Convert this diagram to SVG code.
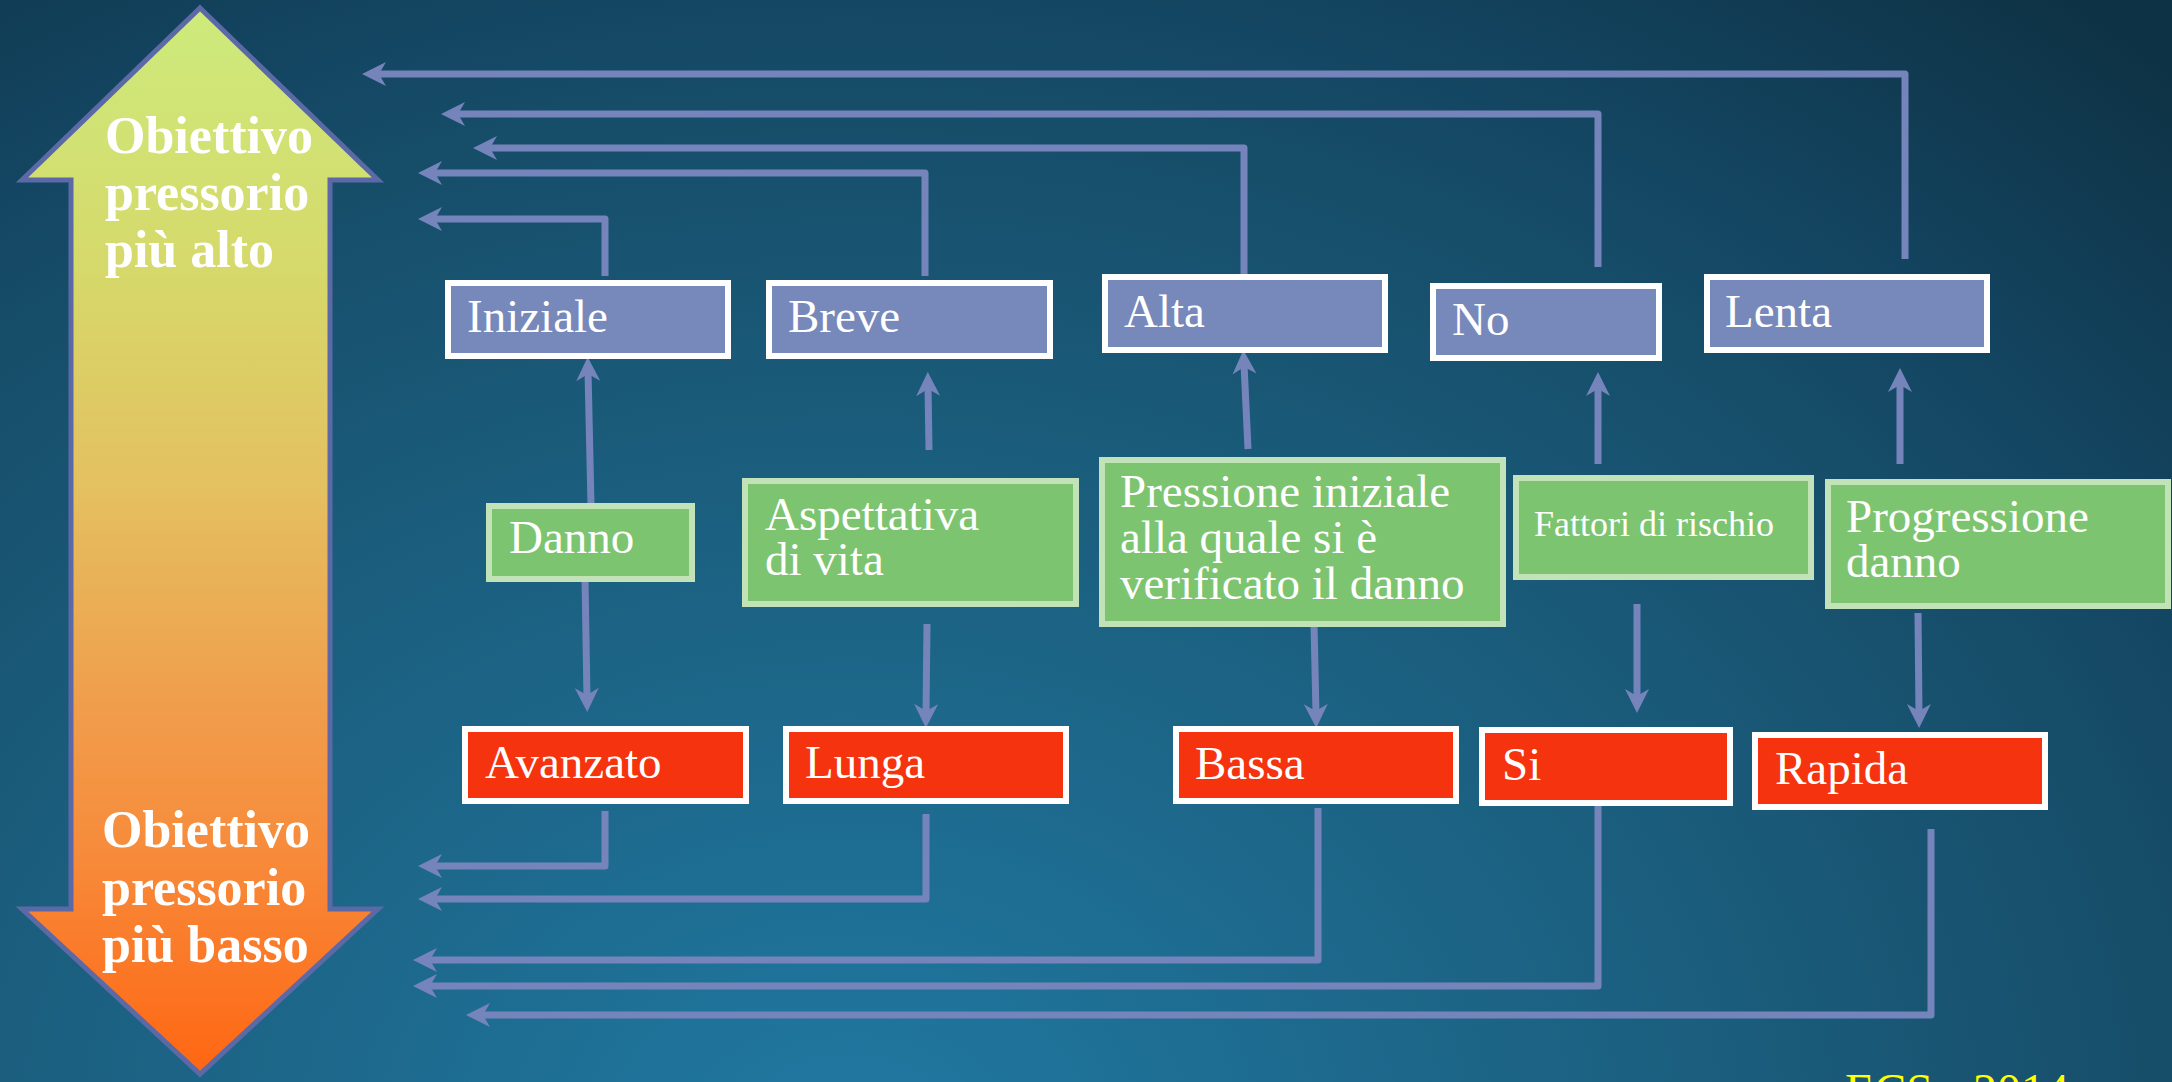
<svg xmlns="http://www.w3.org/2000/svg" width="2172" height="1082" viewBox="0 0 2172 1082">
  <defs>
    <radialGradient id="bg" gradientUnits="userSpaceOnUse" cx="0" cy="0" r="1" gradientTransform="translate(850 1150) scale(1900 1500)">
      <stop offset="0" stop-color="#2079a2"/>
      <stop offset="0.45" stop-color="#1b5e7e"/>
      <stop offset="0.7" stop-color="#164d69"/>
      <stop offset="0.8" stop-color="#134460"/>
      <stop offset="1" stop-color="#0e3245"/>
    </radialGradient>
    <linearGradient id="dbl" gradientUnits="userSpaceOnUse" x1="0" y1="8" x2="0" y2="1074">
      <stop offset="0" stop-color="#cdeb7c"/>
      <stop offset="0.25" stop-color="#d6d86a"/>
      <stop offset="0.45" stop-color="#e4c060"/>
      <stop offset="0.65" stop-color="#f09e4c"/>
      <stop offset="0.8" stop-color="#f78a3a"/>
      <stop offset="1" stop-color="#ff6612"/>
    </linearGradient>
    <marker id="ah" markerUnits="userSpaceOnUse" viewBox="-25 -13 27 26" markerWidth="27" markerHeight="26" refX="-14" refY="0" orient="auto">
      <path d="M0,0 L-24,-12 L-17,0 L-24,12 Z" fill="#7585bc"/>
    </marker>
    <style>
      .conn { fill: none; stroke: #7585bc; stroke-width: 7; stroke-linejoin: round; }
      .arr { marker-end: url(#ah); }
      .blue rect { fill: #7788bb; stroke: #ffffff; stroke-width: 6; }
      .green rect { fill: #7dc470; stroke: #c2e3b8; stroke-width: 6; }
      .red rect { fill: #f5330f; stroke: #ffffff; stroke-width: 6; }
      .t { font-family: "Liberation Serif", "Times New Roman", serif; font-size: 47px; fill: #ffffff; }
      .s { font-size: 36px; }
      .big { font-family: "Liberation Serif", "Times New Roman", serif; font-size: 52px; font-weight: bold; fill: #ffffff; }
      .src { font-family: "Liberation Serif", "Times New Roman", serif; font-size: 48px; fill: #ffff00; }
    </style>
  </defs>

  <rect x="0" y="0" width="2172" height="1082" fill="url(#bg)"/>

  <g id="double-arrow">
    <polygon points="200,8 378,180 330,180 330,909 378,909 200,1074 22,909 71,909 71,180 22,180" fill="url(#dbl)" stroke="#5b6aa6" stroke-width="5" stroke-linejoin="miter"/>
    <text class="big" x="105" y="153">Obiettivo</text>
    <text class="big" x="105" y="210">pressorio</text>
    <text class="big" x="105" y="267">più alto</text>
    <text class="big" x="102" y="847">Obiettivo</text>
    <text class="big" x="102" y="905">pressorio</text>
    <text class="big" x="102" y="962">più basso</text>
  </g>

  <g id="connectors">
    <!-- top row feedback -->
    <path class="conn arr" d="M605,276 V219 H432"/>
    <path class="conn arr" d="M925,276 V173 H432"/>
    <path class="conn arr" d="M1244,280 V148 H487"/>
    <path class="conn arr" d="M1598,267 V114 H455"/>
    <path class="conn arr" d="M1905,259 V74 H376"/>
    <!-- up arrows -->
    <path class="conn arr" d="M591,505 L588,371"/>
    <path class="conn arr" d="M929,450 L928,386"/>
    <path class="conn arr" d="M1248,449 L1244,364"/>
    <path class="conn arr" d="M1598,464 L1598,386"/>
    <path class="conn arr" d="M1900,464 L1900,382"/>
    <!-- down arrows -->
    <path class="conn arr" d="M585,579 L587,698"/>
    <path class="conn arr" d="M927,624 L926,714"/>
    <path class="conn arr" d="M1314,624 L1316,714"/>
    <path class="conn arr" d="M1637,604 L1637,699"/>
    <path class="conn arr" d="M1918,613 L1919,714"/>
    <!-- bottom row feedback -->
    <path class="conn arr" d="M605,811 V866 H432"/>
    <path class="conn arr" d="M926,814 V899 H432"/>
    <path class="conn arr" d="M1318,808 V960 H427"/>
    <path class="conn arr" d="M1598,803 V986 H427"/>
    <path class="conn arr" d="M1931,829 V1015 H480"/>
  </g>

  <g id="iniziale" class="blue"><rect x="448" y="283" width="280" height="73"/><text class="t" x="467" y="332">Iniziale</text></g>
  <g id="breve" class="blue"><rect x="769" y="283" width="281" height="73"/><text class="t" x="788" y="332">Breve</text></g>
  <g id="alta" class="blue"><rect x="1105" y="277" width="280" height="73"/><text class="t" x="1124" y="327">Alta</text></g>
  <g id="no" class="blue"><rect x="1433" y="286" width="226" height="72"/><text class="t" x="1452" y="335">No</text></g>
  <g id="lenta" class="blue"><rect x="1707" y="277" width="280" height="73"/><text class="t" x="1725" y="327">Lenta</text></g>

  <g id="danno" class="green"><rect x="489" y="506" width="203" height="73"/><text class="t" x="509" y="553">Danno</text></g>
  <g id="aspettativa" class="green"><rect x="745" y="481" width="331" height="123"/><text class="t" x="765" y="530">Aspettativa</text><text class="t" x="765" y="575">di vita</text></g>
  <g id="pressione" class="green"><rect x="1102" y="460" width="401" height="164"/><text class="t" x="1120" y="507">Pressione iniziale</text><text class="t" x="1120" y="553">alla quale si è</text><text class="t" x="1120" y="599">verificato il danno</text></g>
  <g id="fattori" class="green"><rect x="1516" y="478" width="295" height="99"/><text class="t s" x="1534" y="536">Fattori di rischio</text></g>
  <g id="progressione" class="green"><rect x="1828" y="482" width="340" height="124"/><text class="t" x="1846" y="532">Progressione</text><text class="t" x="1846" y="577">danno</text></g>

  <g id="avanzato" class="red"><rect x="465" y="729" width="281" height="72"/><text class="t" x="485" y="778">Avanzato</text></g>
  <g id="lunga" class="red"><rect x="786" y="729" width="280" height="72"/><text class="t" x="805" y="778">Lunga</text></g>
  <g id="bassa" class="red"><rect x="1176" y="729" width="280" height="72"/><text class="t" x="1195" y="779">Bassa</text></g>
  <g id="si" class="red"><rect x="1482" y="730" width="248" height="73"/><text class="t" x="1502" y="780">Si</text></g>
  <g id="rapida" class="red"><rect x="1755" y="735" width="290" height="72"/><text class="t" x="1775" y="784">Rapida</text></g>

  <text class="src" x="1845" y="1107">ECS - 2014</text>
</svg>
